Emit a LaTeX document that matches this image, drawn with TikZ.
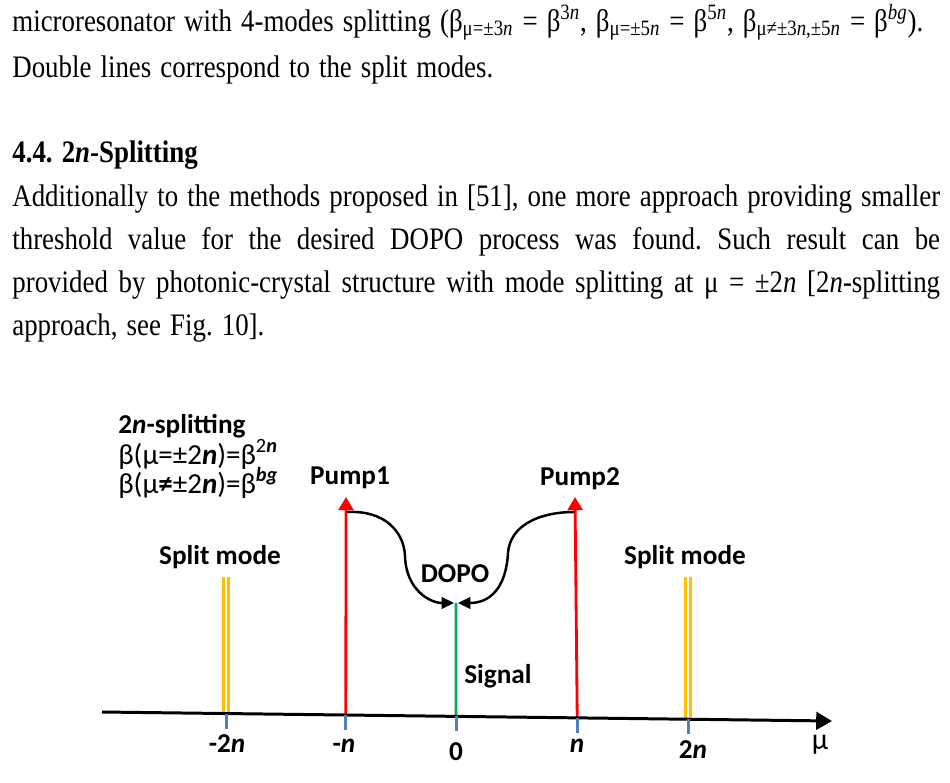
\documentclass[tikz,border=0pt]{standalone}
\usepackage{fontspec}
\setmainfont{Liberation Serif}[FakeStretch=0.86, WordSpace=1.35]
\newfontfamily\carl{Carlito}
\usepackage{tikz}
\usetikzlibrary{arrows.meta,calc}
\definecolor{pumpred}{RGB}{255,0,0}
\definecolor{sigreen}{RGB}{0,176,80}
\definecolor{splitgold}{RGB}{255,192,0}
\definecolor{tickblue}{RGB}{79,129,189}
\newcommand{\jline}[1]{\makebox[18.56cm][s]{#1}}
\newcommand{\bn}{\textbf{\textit{n}}}
\frenchspacing

\begin{document}
\begin{tikzpicture}[x=0.02cm, y=-0.02cm, txt/.style={anchor=base west, inner sep=0, font=\fontsize{17.8}{20}\selectfont}, lbl/.style={anchor=base, inner sep=0, font=\carl\bfseries\fontsize{15.5}{18}\selectfont}, eq/.style={anchor=base west, inner sep=0, font=\carl\fontsize{16.5}{18}\selectfont}, pump/.style={pumpred, line width=1.6pt, -{Triangle[length=7.5pt,width=8.5pt]}}, conv/.style={black, line width=1.4pt, -{Triangle[length=7pt,width=6.5pt]}}, split/.style={splitgold, line width=1.7pt, double=white, double distance=1.6pt}, tick/.style={tickblue, line width=1.7pt}]
\useasboundingbox (0,0) rectangle (950,782);
% text of the page
\node[txt] (l1) at (12,31) {microresonator with 4-modes splitting (β\textsubscript{μ=±3\textit{n}} = β\textsuperscript{3\textit{n}}, β\textsubscript{μ=±5\textit{n}} = β\textsuperscript{5\textit{n}}, β\textsubscript{μ≠±3\textit{n},±5\textit{n}} = β\textsuperscript{\textit{bg}}).};
\node[txt] (l2) at (12,77) {Double lines correspond to the split modes.};
\node[txt] (head) at (12,162) {\textbf{4.4. 2\textit{n}-Splitting}};
\node[txt] (p1) at (12,206) {\jline{Additionally to the methods proposed in [51], one more approach providing smaller}};
\node[txt] (p2) at (12,249) {\jline{threshold value for the desired DOPO process was found. Such result can be}};
\node[txt] (p3) at (12,292) {\jline{provided by photonic-crystal structure with mode splitting at  μ = ±2\textit{n}  [2\textit{n}-splitting}};
\node[txt] (p4) at (12,335) {approach, see Fig. 10].};
% diagram
\node[lbl, anchor=base west] (title) at (118,433) {2\textit{n}-splitting};
\node[eq] (eqa) at (118,464) {β(μ=±2\bn)=β\textsuperscript{2\bn}};
\node[eq] (eqb) at (118,493) {β(μ\textbf{≠}±2\bn)=β\textsuperscript{\textbf{\textit{bg}}}};
\node[lbl] (pa) at (350,484) {Pump1};
\node[lbl] (pb) at (580,485) {Pump2};
\node[lbl] (sa) at (220,564) {Split mode};
\node[lbl] (sb) at (685,564) {Split mode};
\node[lbl] (dp) at (455,582) {DOPO};
\node[lbl, anchor=base west] (sg) at (464,683) {Signal};
\coordinate (axL) at (102,712);
\coordinate (axR) at (832,721);
\path (axL) -- (axR) coordinate[pos=0.170] (tA) coordinate[pos=0.334] (tB) coordinate[pos=0.485] (tC) coordinate[pos=0.651] (tD) coordinate[pos=0.803] (tE);
\coordinate (ya) at (226,577);
\coordinate (yb) at (688,577);
\coordinate (ra) at (346,497);
\coordinate (rb) at (575,497);
\coordinate (ca) at (347,512);
\coordinate (cb) at (574,512);
\coordinate (g) at (456,603);
\coordinate (gl) at (454,603);
\coordinate (gr) at (458,603);
\draw[split] (ya) -- (ya |- tA);
\draw[split] (yb) -- (yb |- tE);
\draw[pump] (tB) -- (ra);
\draw[pump] (tD) -- (rb);
\draw[sigreen, line width=1.6pt] (tC) -- (g);
\draw[conv] (ca) .. controls (385,510) and (404,532) .. (405,556) .. controls (406,590) and (430,603) .. (gl);
\draw[conv] (cb) .. controls (540,512) and (510,525) .. (508,553) .. controls (506,588) and (490,603) .. (gr);
\draw[black, line width=1.7pt, -{Triangle[length=9pt,width=10pt]}] (axL) -- (axR);
\foreach \t in {tA,tB,tC,tD,tE} \draw[tick] (\t) -- ++(0,15);
\node[lbl] (xa) at (227,752) {-2\textit{n}};
\node[lbl] (xb) at (344,752) {-\textit{n}};
\node[lbl] (xc) at (456,760) {0};
\node[lbl] (xd) at (577,752) {\textit{n}};
\node[lbl] (xe) at (693,758) {2\textit{n}};
\node[eq, anchor=base] (mu) at (820,749) {\fontsize{17}{18}\selectfont μ};
\end{tikzpicture}
\end{document}
